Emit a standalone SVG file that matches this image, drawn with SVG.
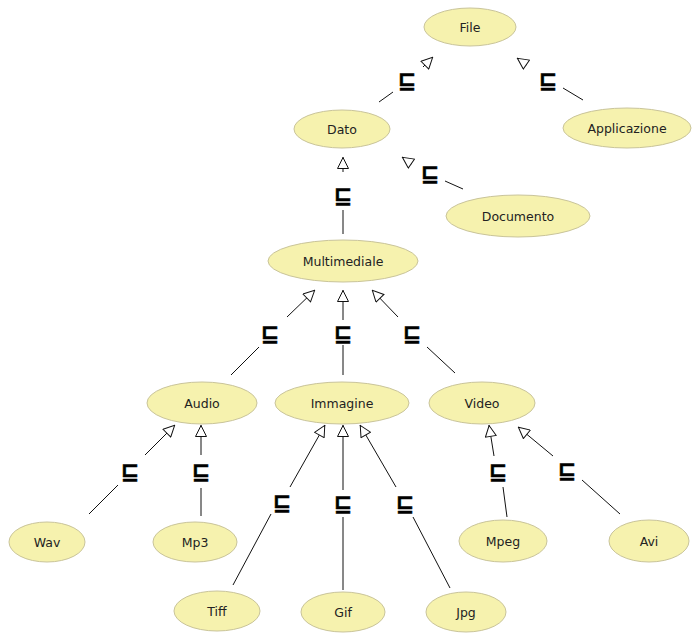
<svg xmlns="http://www.w3.org/2000/svg" width="693" height="634" viewBox="0 0 693 634">
<style>
.n ellipse{fill:#f6f2ae;stroke:#c9c49a;stroke-width:1}
.n text{font-family:"DejaVu Sans",sans-serif;font-size:12.5px;fill:#222;text-anchor:middle;dominant-baseline:central}
.c path{fill:none;stroke:#111;stroke-width:1;marker-end:url(#tri)}
.c text{font-family:"DejaVu Sans",sans-serif;font-weight:bold;font-size:22px;fill:#000;stroke:#000;stroke-width:0.6;text-anchor:middle;dominant-baseline:central}
</style>
<defs>
<marker id="tri" viewBox="0 0 12 12" refX="12" refY="6" markerWidth="13" markerHeight="12" markerUnits="userSpaceOnUse" orient="auto">
<path d="M0.5,0.5 L11.5,6 L0.5,11.5 z" fill="#fff" stroke="#111" stroke-width="1"/>
</marker>
</defs>
<rect width="693" height="634" fill="#fff"/>
<g id="connectors" class="c">
<path d="M379,102 L393,92 M423,67 L433,57"/><text x="407" y="80">⊑</text>
<path d="M583,100 L563,88 M527,65 L517,58"/><text x="548" y="80">⊑</text>
<path d="M343,234 L343,210 M343,172 L343,157"/><text x="343" y="195">⊑</text>
<path d="M463,189 L445,181 M412,164 L402,157"/><text x="430" y="173">⊑</text>
<path d="M231,375 L259,347 M287,317 L315,290"/><text x="270" y="333">⊑</text>
<path d="M343,375 L343,345 M343,320 L343,290"/><text x="343" y="333">⊑</text>
<path d="M455,373 L427,347 M398,317 L372,290"/><text x="412" y="333">⊑</text>
<path d="M89,514 L118,485 M145,455 L175,425"/><text x="130" y="471">⊑</text>
<path d="M201,516 L201,488 M201,455 L201,425"/><text x="201" y="471">⊑</text>
<path d="M233,585 L271,514 M290,487 L325,425"/><text x="282" y="502">⊑</text>
<path d="M343,590 L343,517 M343,490 L343,425"/><text x="343" y="503">⊑</text>
<path d="M450,588 L413,517 M396,487 L360,425"/><text x="405" y="503">⊑</text>
<path d="M507,517 L503,487 M494,456 L489,425"/><text x="498" y="471">⊑</text>
<path d="M620,514 L582,480 M553,456 L518,427"/><text x="567" y="470">⊑</text>
</g>
<g id="file" class="n"><ellipse cx="470" cy="27" rx="46" ry="19"/><text x="470" y="27">File</text></g>
<g id="dato" class="n"><ellipse cx="342" cy="129" rx="48" ry="19"/><text x="342" y="129">Dato</text></g>
<g id="applicazione" class="n"><ellipse cx="627" cy="128" rx="64" ry="20"/><text x="627" y="128">Applicazione</text></g>
<g id="documento" class="n"><ellipse cx="518" cy="216" rx="72" ry="21"/><text x="518" y="216">Documento</text></g>
<g id="multimediale" class="n"><ellipse cx="343" cy="261" rx="75" ry="21"/><text x="343" y="261">Multimediale</text></g>
<g id="audio" class="n"><ellipse cx="202" cy="403" rx="55" ry="21"/><text x="202" y="403">Audio</text></g>
<g id="immagine" class="n"><ellipse cx="342" cy="403" rx="67" ry="21"/><text x="342" y="403">Immagine</text></g>
<g id="video" class="n"><ellipse cx="482" cy="403" rx="53" ry="21"/><text x="482" y="403">Video</text></g>
<g id="wav" class="n"><ellipse cx="47" cy="542" rx="38" ry="20"/><text x="47" y="542">Wav</text></g>
<g id="mp3" class="n"><ellipse cx="195" cy="542" rx="42" ry="20"/><text x="195" y="542">Mp3</text></g>
<g id="tiff" class="n"><ellipse cx="217" cy="611" rx="43" ry="20"/><text x="217" y="611">Tiff</text></g>
<g id="gif" class="n"><ellipse cx="343" cy="612" rx="42" ry="20"/><text x="343" y="612">Gif</text></g>
<g id="jpg" class="n"><ellipse cx="466" cy="612" rx="40" ry="20"/><text x="466" y="612">Jpg</text></g>
<g id="mpeg" class="n"><ellipse cx="503" cy="541" rx="44" ry="21"/><text x="503" y="541">Mpeg</text></g>
<g id="avi" class="n"><ellipse cx="649" cy="541" rx="40" ry="21"/><text x="649" y="541">Avi</text></g>
</svg>
